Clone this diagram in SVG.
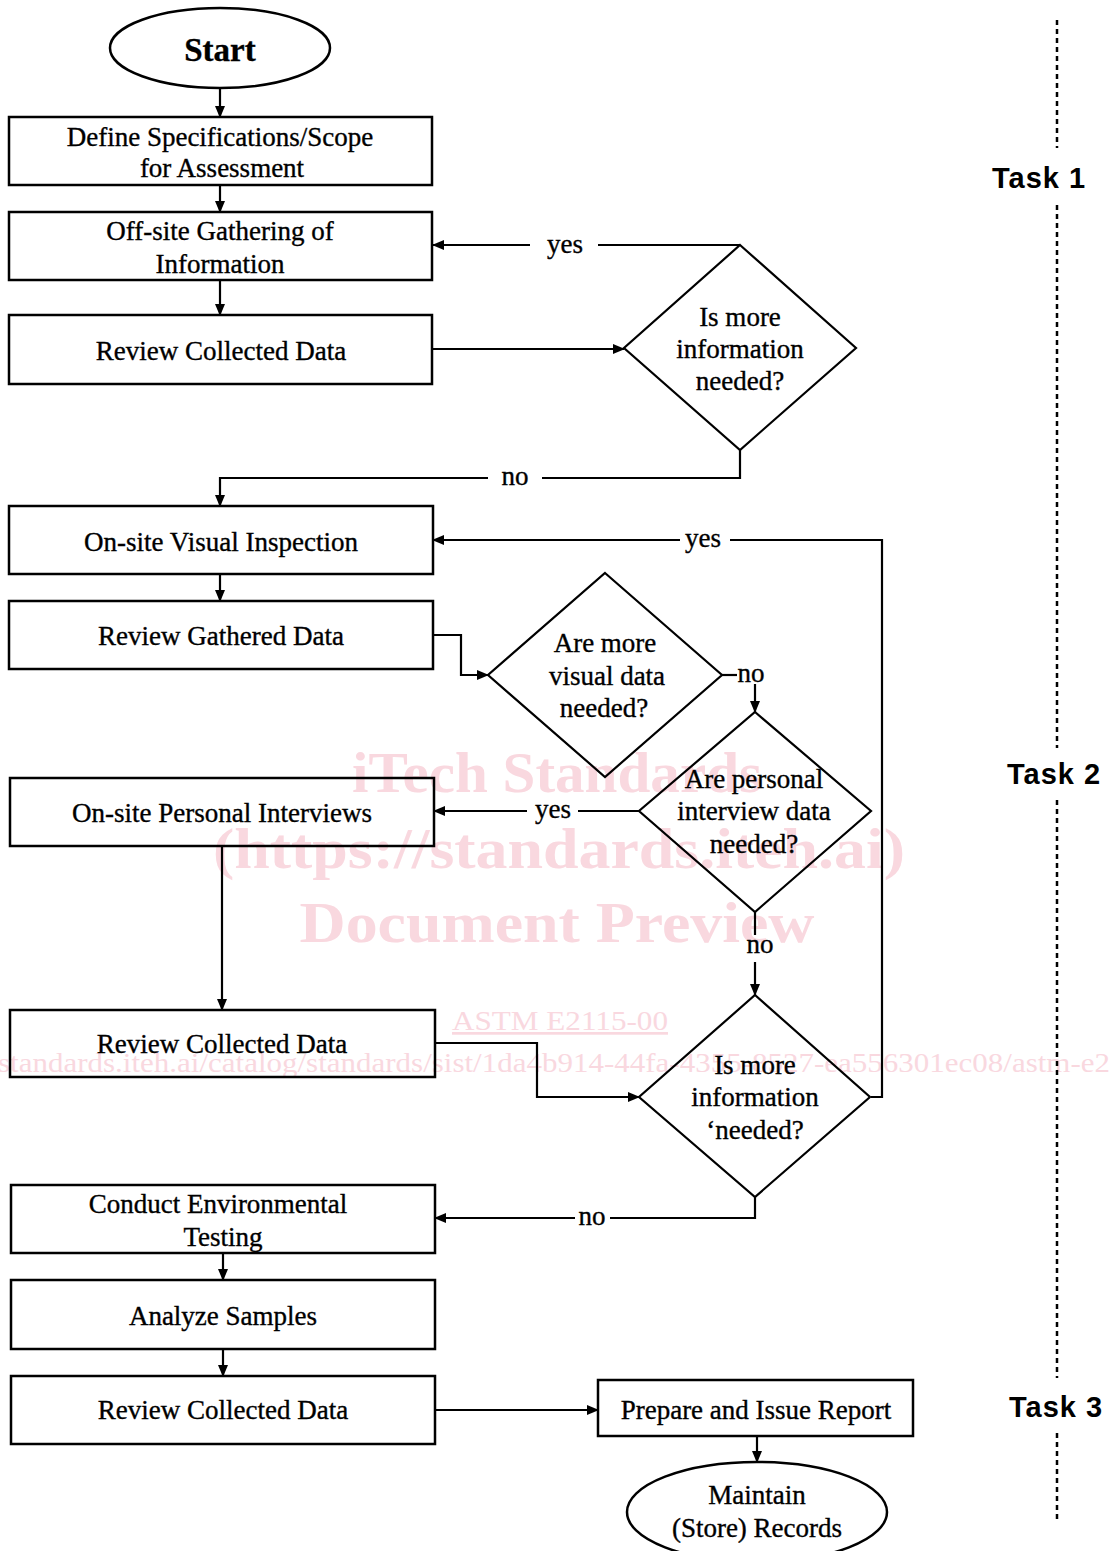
<svg xmlns="http://www.w3.org/2000/svg" width="1114" height="1551" viewBox="0 0 1114 1551">
<style>
.box{fill:none;stroke:#000;stroke-width:2.5}
.c{fill:none;stroke:#000;stroke-width:2.2}
.t{font-family:"Liberation Serif","Times New Roman",serif;font-size:27px;fill:#000;stroke:#000;stroke-width:0.35;text-anchor:middle}
.task{font-family:"Liberation Sans",Arial,sans-serif;font-size:29px;font-weight:bold;letter-spacing:1px;fill:#000}
.wm{font-family:"Liberation Serif","Times New Roman",serif;fill:#f9d8df;text-anchor:middle}
.dash{fill:none;stroke:#000;stroke-width:2.5;stroke-dasharray:5 4}
</style>
<defs>
<marker id="ah" markerUnits="userSpaceOnUse" markerWidth="12" markerHeight="10" refX="11" refY="5" orient="auto">
<path d="M0,0 L12,5 L0,10 z" fill="#000"/>
</marker>
</defs>
<rect width="1114" height="1551" fill="#fff"/>
<g id="watermark">
<text class="wm" x="557" y="792" font-size="58" font-weight="bold" textLength="410" lengthAdjust="spacingAndGlyphs">iTech Standards</text>
<text class="wm" x="559" y="868" font-size="58" font-weight="bold" textLength="692" lengthAdjust="spacingAndGlyphs">(https://standards.iteh.ai)</text>
<text class="wm" x="557" y="942" font-size="58" font-weight="bold" textLength="515" lengthAdjust="spacingAndGlyphs">Document Preview</text>
<text class="wm" x="560" y="1030" font-size="27" textLength="216" lengthAdjust="spacingAndGlyphs" text-decoration="underline">ASTM E2115-00</text>
<text class="wm" x="-2" y="1072" font-size="27" style="text-anchor:start" textLength="1112" lengthAdjust="spacingAndGlyphs">standards.iteh.ai/catalog/standards/sist/1da4b914-44fa-4355-8527-ea556301ec08/astm-e2</text>
</g>
<g id="tasks">
<line class="dash" x1="1057" y1="20" x2="1057" y2="148"/>
<line class="dash" x1="1057" y1="205" x2="1057" y2="748"/>
<line class="dash" x1="1057" y1="800" x2="1057" y2="1378"/>
<line class="dash" x1="1057" y1="1433" x2="1057" y2="1520"/>
<text class="task" x="992" y="188">Task 1</text>
<text class="task" x="1007" y="784">Task 2</text>
<text class="task" x="1009" y="1417">Task 3</text>
</g>
<g id="connectors">
<line class="c" x1="220" y1="88" x2="220" y2="117" marker-end="url(#ah)"/>
<line class="c" x1="220" y1="185" x2="220" y2="212" marker-end="url(#ah)"/>
<line class="c" x1="220" y1="280" x2="220" y2="315" marker-end="url(#ah)"/>
<line class="c" x1="433" y1="349" x2="624" y2="349" marker-end="url(#ah)"/>
<polyline class="c" points="598,245 740,245"/>
<line class="c" x1="530" y1="245" x2="433" y2="245" marker-end="url(#ah)"/>
<text class="t" x="565" y="253">yes</text>
<polyline class="c" points="740,450 740,478 542,478"/>
<polyline class="c" points="488,478 220,478 220,506" marker-end="url(#ah)"/>
<text class="t" x="515" y="485">no</text>
<line class="c" x1="220" y1="574" x2="220" y2="601" marker-end="url(#ah)"/>
<polyline class="c" points="433,635 461,635 461,675 488,675" marker-end="url(#ah)"/>
<line class="c" x1="722" y1="675" x2="737" y2="675"/>
<text class="t" x="751" y="682">no</text>
<line class="c" x1="755" y1="684" x2="755" y2="712" marker-end="url(#ah)"/>
<line class="c" x1="639" y1="811" x2="578" y2="811"/>
<line class="c" x1="527" y1="811" x2="434" y2="811" marker-end="url(#ah)"/>
<text class="t" x="553" y="818">yes</text>
<polyline class="c" points="871,1097 882,1097 882,540 730,540"/>
<line class="c" x1="680" y1="540" x2="433" y2="540" marker-end="url(#ah)"/>
<text class="t" x="703" y="547">yes</text>
<line class="c" x1="222" y1="846" x2="222" y2="1010" marker-end="url(#ah)"/>
<line class="c" x1="755" y1="912" x2="755" y2="935"/>
<text class="t" x="760" y="953">no</text>
<line class="c" x1="755" y1="962" x2="755" y2="995" marker-end="url(#ah)"/>
<polyline class="c" points="435,1043 537,1043 537,1097 639,1097" marker-end="url(#ah)"/>
<polyline class="c" points="755,1197 755,1218 610,1218"/>
<line class="c" x1="575" y1="1218" x2="435" y2="1218" marker-end="url(#ah)"/>
<text class="t" x="592" y="1225">no</text>
<line class="c" x1="223" y1="1253" x2="223" y2="1280" marker-end="url(#ah)"/>
<line class="c" x1="223" y1="1349" x2="223" y2="1376" marker-end="url(#ah)"/>
<line class="c" x1="435" y1="1410" x2="598" y2="1410" marker-end="url(#ah)"/>
<line class="c" x1="757" y1="1436" x2="757" y2="1462" marker-end="url(#ah)"/>
</g>
<g id="start">
<ellipse class="box" cx="220" cy="48" rx="110" ry="40"/>
<text class="t" x="220" y="61" style="font-size:33px;font-weight:bold">Start</text>
</g>
<g id="define">
<rect class="box" x="9" y="117" width="423" height="68"/>
<text class="t" x="220" y="146">Define Specifications/Scope</text>
<text class="t" x="222" y="177">for Assessment</text>
</g>
<g id="offsite">
<rect class="box" x="9" y="212" width="423" height="68"/>
<text class="t" x="220" y="240">Off-site Gathering of</text>
<text class="t" x="220" y="273">Information</text>
</g>
<g id="review1">
<rect class="box" x="9" y="315" width="423" height="69"/>
<text class="t" x="221" y="360">Review Collected Data</text>
</g>
<g id="decision1">
<polygon class="box" points="740,245 856,348 740,450 624,348" style="stroke-width:2.2"/>
<text class="t" x="740" y="326">Is more</text>
<text class="t" x="740" y="358">information</text>
<text class="t" x="740" y="390">needed?</text>
</g>
<g id="visual">
<rect class="box" x="9" y="506" width="424" height="68"/>
<text class="t" x="221" y="551">On-site Visual Inspection</text>
</g>
<g id="review2">
<rect class="box" x="9" y="601" width="424" height="68"/>
<text class="t" x="221" y="645">Review Gathered Data</text>
</g>
<g id="decision2">
<polygon class="box" points="605,573 722,675 605,777 488,675" style="stroke-width:2.2"/>
<text class="t" x="605" y="652">Are more</text>
<text class="t" x="607" y="685">visual data</text>
<text class="t" x="604" y="717">needed?</text>
</g>
<g id="interviews">
<rect class="box" x="10" y="778" width="424" height="68"/>
<text class="t" x="222" y="822">On-site Personal Interviews</text>
</g>
<g id="decision3">
<polygon class="box" points="755,712 871,811 755,912 639,811" style="stroke-width:2.2"/>
<text class="t" x="754" y="788">Are personal</text>
<text class="t" x="754" y="820">interview data</text>
<text class="t" x="754" y="853">needed?</text>
</g>
<g id="review3">
<rect class="box" x="10" y="1010" width="425" height="67"/>
<text class="t" x="222" y="1053">Review Collected Data</text>
</g>
<g id="decision4">
<polygon class="box" points="755,995 870,1097 755,1197 639,1097" style="stroke-width:2.2"/>
<text class="t" x="755" y="1074">Is more</text>
<text class="t" x="755" y="1106">information</text>
<text class="t" x="755" y="1139">‘needed?</text>
</g>
<g id="testing">
<rect class="box" x="11" y="1185" width="424" height="68"/>
<text class="t" x="218" y="1213">Conduct Environmental</text>
<text class="t" x="223" y="1246">Testing</text>
</g>
<g id="analyze">
<rect class="box" x="11" y="1280" width="424" height="69"/>
<text class="t" x="223" y="1325">Analyze Samples</text>
</g>
<g id="review4">
<rect class="box" x="11" y="1376" width="424" height="68"/>
<text class="t" x="223" y="1419">Review Collected Data</text>
</g>
<g id="report">
<rect class="box" x="598" y="1380" width="315" height="56"/>
<text class="t" x="756" y="1419">Prepare and Issue Report</text>
</g>
<g id="records">
<ellipse class="box" cx="757" cy="1512" rx="130" ry="50"/>
<text class="t" x="757" y="1504">Maintain</text>
<text class="t" x="757" y="1537">(Store) Records</text>
</g>
</svg>
